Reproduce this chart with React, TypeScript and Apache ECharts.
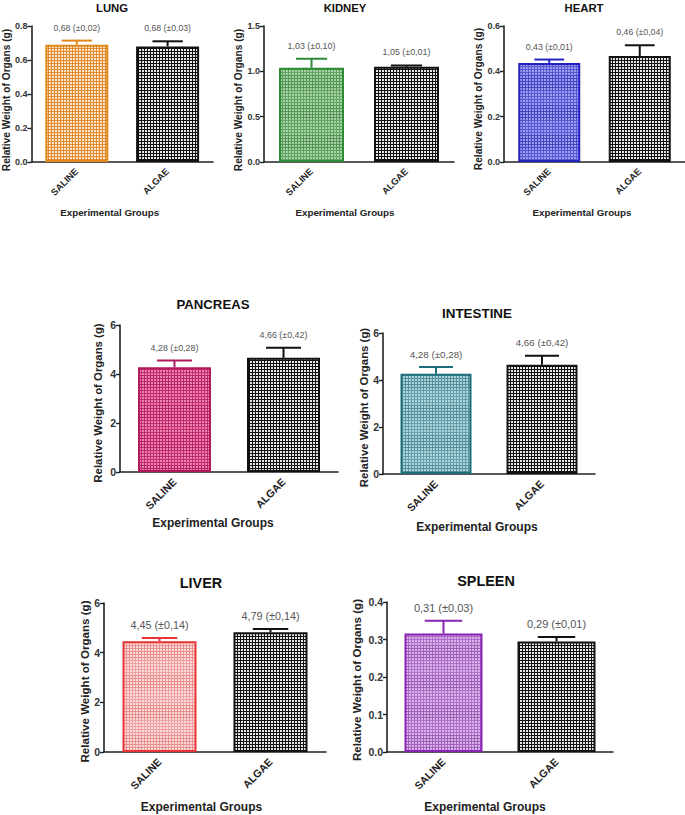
import React, { useEffect, useRef } from "react";
import * as echarts from "echarts";

// ---------- data ----------
const groups = ["SALINE", "ALGAE"];
const organNames = ["LUNG", "KIDNEY", "HEART", "PANCREAS", "INTESTINE", "LIVER", "SPLEEN"];

const lungMeans = [0.69, 0.68];
const lungErrors = [0.024, 0.03];
const lungLabels = ["0,68 (±0,02)", "0,68 (±0,03)"];

const kidneyMeans = [1.04, 1.05];
const kidneyErrors = [0.1, 0.015];
const kidneyLabels = ["1,03 (±0,10)", "1,05 (±0,01)"];

const heartMeans = [0.437, 0.468];
const heartErrors = [0.015, 0.047];
const heartLabels = ["0,43 (±0,01)", "0,46 (±0,04)"];

const pancreasMeans = [4.28, 4.66];
const pancreasErrors = [0.27, 0.41];
const pancreasLabels = ["4,28 (±0,28)", "4,66 (±0,42)"];

const intestineMeans = [4.27, 4.65];
const intestineErrors = [0.28, 0.38];
const intestineLabels = ["4,28 (±0,28)", "4,66 (±0,42)"];

const liverMeans = [4.46, 4.82];
const liverErrors = [0.13, 0.13];
const liverLabels = ["4,45 (±0,14)", "4,79 (±0,14)"];

const spleenMeans = [0.316, 0.295];
const spleenErrors = [0.034, 0.012];
const spleenLabels = ["0,31 (±0,03)", "0,29 (±0,01)"];

const yMaxes = [0.8, 1.5, 0.6, 6, 6, 6, 0.4];
const ySteps = [0.2, 0.5, 0.2, 2, 2, 2, 0.1];
const yDecimals = [1, 1, 1, 0, 0, 0, 1];

const allMeans = [lungMeans, kidneyMeans, heartMeans, pancreasMeans, intestineMeans, liverMeans, spleenMeans];
const allErrors = [lungErrors, kidneyErrors, heartErrors, pancreasErrors, intestineErrors, liverErrors, spleenErrors];
const allLabels = [lungLabels, kidneyLabels, heartLabels, pancreasLabels, intestineLabels, liverLabels, spleenLabels];

// ---------- styling / layout ----------
const FONT = "'Liberation Sans', Arial, Helvetica, sans-serif";

type Layout = {
  grid: [number, number, number, number];
  bar: number;
  titleX: number;
  titleY: number;
  titleSize: number;
  yNameSize: number;
  yNameGap: number;
  yNameShift: number;
  xNameSize: number;
  xNameGap: number;
  xNameShift: number;
  tickSize: number;
  catSize: number;
  valSize: number;
};

const layouts: Layout[] = [
  { grid: [30, 26, 183, 136], bar: 63, titleX: 112, titleY: 8, titleSize: 11.3, yNameSize: 10.2, yNameGap: 20, yNameShift: 12, xNameSize: 9.8, xNameGap: 45, xNameShift: 25, tickSize: 9, catSize: 9.3, valSize: 8.7 },
  { grid: [264, 26, 190, 136], bar: 65, titleX: 345, titleY: 8, titleSize: 11.3, yNameSize: 10.2, yNameGap: 21, yNameShift: 12, xNameSize: 9.8, xNameGap: 45, xNameShift: 28, tickSize: 9, catSize: 9.3, valSize: 8.9 },
  { grid: [504, 26, 181, 136], bar: 62, titleX: 584, titleY: 8, titleSize: 11.3, yNameSize: 10.2, yNameGap: 20, yNameShift: 10, xNameSize: 9.8, xNameGap: 45, xNameShift: 25, tickSize: 9, catSize: 9.3, valSize: 8.7 },
  { grid: [120, 325, 218, 147], bar: 73, titleX: 213, titleY: 304, titleSize: 13.2, yNameSize: 11.4, yNameGap: 17, yNameShift: 9, xNameSize: 12, xNameGap: 45, xNameShift: 32, tickSize: 10.5, catSize: 10.6, valSize: 8.9 },
  { grid: [383, 333, 212, 141], bar: 71, titleX: 477, titleY: 313, titleSize: 13.4, yNameSize: 11.4, yNameGap: 12, yNameShift: 8, xNameSize: 12, xNameGap: 47, xNameShift: 24, tickSize: 10.5, catSize: 10.6, valSize: 9.8 },
  { grid: [104, 603, 222, 149], bar: 74, titleX: 201, titleY: 583, titleSize: 14.4, yNameSize: 11.6, yNameGap: 14, yNameShift: 8, xNameSize: 12, xNameGap: 49, xNameShift: 27, tickSize: 10.5, catSize: 10.6, valSize: 10.8 },
  { grid: [387, 602, 226, 150], bar: 78, titleX: 486, titleY: 581, titleSize: 14.4, yNameSize: 11.6, yNameGap: 25, yNameShift: 6, xNameSize: 12, xNameGap: 49, xNameShift: 30, tickSize: 10.5, catSize: 10.6, valSize: 11 },
];

type Fill = { base: string; dot: string; stripe: string; border: string };
const salineFills: Fill[] = [
  { base: "#de8c34", dot: "#fde6c4", stripe: "#de8c34", border: "#e0881c" },
  { base: "#63a463", dot: "#a4d2a4", stripe: "#549454", border: "#2e8a36" },
  { base: "#5858d4", dot: "#9c9cee", stripe: "#4646c4", border: "#2222c0" },
  { base: "#c22c6c", dot: "#ec82b0", stripe: "#b82466", border: "#b01a5c" },
  { base: "#64a0ac", dot: "#acd2da", stripe: "#54909c", border: "#1c6c7a" },
  { base: "#f0a0a0", dot: "#fcdada", stripe: "#e89090", border: "#e83434" },
  { base: "#ae70c8", dot: "#dab2ea", stripe: "#9e60b8", border: "#8a22b4" },
];

function makePattern(base: string, dot: string, stripe: string) {
  const w = 3;
  const h = 30;
  const c = document.createElement("canvas");
  c.width = w;
  c.height = h;
  const ctx = c.getContext("2d")!;
  ctx.fillStyle = base;
  ctx.fillRect(0, 0, w, 15);
  ctx.fillStyle = stripe;
  ctx.fillRect(0, 15, w, 15);
  ctx.fillStyle = dot;
  for (let y = 0; y < h; y += 3) ctx.fillRect(1, y + 1, 2, 2);
  return { image: c, repeat: "repeat", imageWidth: w, imageHeight: h } as any;
}

function fmt(v: number, d: number) {
  return v.toFixed(d);
}

export default function App() {
  const ref = useRef<HTMLDivElement>(null);

  useEffect(() => {
    if (!ref.current) return;
    const chart = echarts.init(ref.current, undefined, { renderer: "svg" });

    const algaePattern = makePattern("#111111", "#e6e6e6", "#111111");

    const grids: any[] = [];
    const xAxes: any[] = [];
    const yAxes: any[] = [];
    const series: any[] = [];
    const graphics: any[] = [];

    organNames.forEach((organ, k) => {
      const L = layouts[k];
      const f = salineFills[k];
      const means = allMeans[k];
      const errs = allErrors[k];
      const labels = allLabels[k];
      const salinePattern = makePattern(f.base, f.dot, f.stripe);

      grids.push({ left: L.grid[0], top: L.grid[1], width: L.grid[2], height: L.grid[3], containLabel: false });

      graphics.push({
        type: "text",
        x: L.titleX,
        y: L.titleY,
        style: {
          text: organ,
          align: "center",
          verticalAlign: "middle",
          fontFamily: FONT,
          fontWeight: "bold",
          fontSize: L.titleSize,
          fill: "#111",
        },
      });

      xAxes.push({
        type: "category",
        gridIndex: k,
        data: groups,
        name: "Experimental Groups",
        nameLocation: "middle",
        nameGap: L.xNameGap,
        nameTextStyle: {
          fontFamily: FONT,
          fontWeight: "bold",
          fontSize: L.xNameSize,
          color: "#222",
          padding: [0, L.xNameShift, 0, 0],
        },
        axisLine: { lineStyle: { color: "#222", width: 1.6 } },
        axisTick: { alignWithLabel: true, length: 5, lineStyle: { color: "#222", width: 1.4 } },
        axisLabel: {
          rotate: 45,
          margin: 8,
          fontFamily: FONT,
          fontWeight: "bold",
          fontSize: L.catSize,
          color: "#222",
        },
        splitLine: { show: false },
      });

      yAxes.push({
        type: "value",
        gridIndex: k,
        min: 0,
        max: yMaxes[k],
        interval: ySteps[k],
        name: "Relative Weight of Organs (g)",
        nameLocation: "middle",
        nameGap: L.yNameGap,
        nameRotate: 90,
        nameTextStyle: {
          fontFamily: FONT,
          fontWeight: "bold",
          fontSize: L.yNameSize,
          color: "#222",
          padding: [0, L.yNameShift, 0, 0],
        },
        axisLine: { show: true, lineStyle: { color: "#222", width: 1.6 } },
        axisTick: { show: true, length: 4, lineStyle: { color: "#222", width: 1.4 } },
        axisLabel: {
          margin: 4,
          fontFamily: FONT,
          fontWeight: "bold",
          fontSize: L.tickSize,
          color: "#333",
          formatter: (v: number) => fmt(v, yDecimals[k]),
        },
        splitLine: { show: false },
      });

      series.push({
        type: "bar",
        xAxisIndex: k,
        yAxisIndex: k,
        barWidth: L.bar,
        data: means.map((m, i) => ({
          value: m,
          itemStyle:
            i === 0
              ? { color: salinePattern, borderColor: f.border, borderWidth: 2 }
              : { color: algaePattern, borderColor: "#111", borderWidth: 2 },
        })),
        z: 2,
      });

      const errColors = [f.border, "#111"];
      series.push({
        type: "custom",
        xAxisIndex: k,
        yAxisIndex: k,
        encode: { x: 0, y: 1 },
        data: means.map((m, i) => [i, m, errs[i]]),
        z: 3,
        renderItem: (params: any, api: any) => {
          const i = api.value(0);
          const m = api.value(1);
          const e = api.value(2);
          const base = api.coord([i, m]);
          const top = api.coord([i, m + e]);
          const cap = (L.bar * 0.48) / 2;
          const col = errColors[i];
          return {
            type: "group",
            children: [
              {
                type: "line",
                shape: { x1: base[0], y1: base[1], x2: top[0], y2: top[1] },
                style: { stroke: col, lineWidth: 2 },
              },
              {
                type: "line",
                shape: { x1: top[0] - cap, y1: top[1], x2: top[0] + cap, y2: top[1] },
                style: { stroke: col, lineWidth: 2 },
              },
              {
                type: "text",
                x: top[0],
                y: top[1] - 13,
                style: {
                  text: labels[i],
                  align: "center",
                  verticalAlign: "middle",
                  fontFamily: FONT,
                  fontSize: L.valSize,
                  fill: "#555",
                },
              },
            ],
          };
        },
      });
    });

    chart.setOption({
      animation: false,
      backgroundColor: "#ffffff",
      grid: grids,
      xAxis: xAxes,
      yAxis: yAxes,
      series,
      graphic: graphics,
    });

    return () => chart.dispose();
  }, []);

  return (
    <div
      ref={ref}
      style={{ position: "absolute", left: 0, top: 0, width: 685, height: 815, background: "#fff" }}
    />
  );
}
